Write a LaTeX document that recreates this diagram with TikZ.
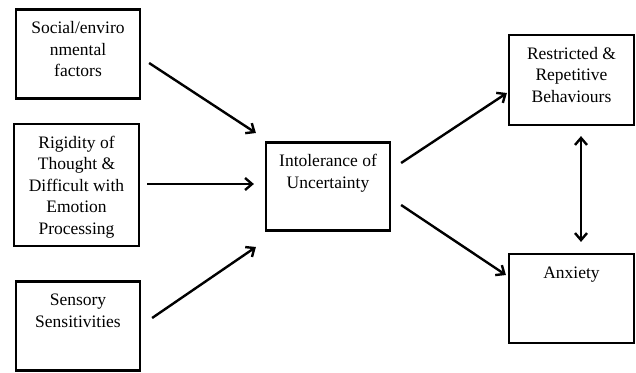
\documentclass[tikz,border=0pt]{standalone}
\usepackage{fontspec}
\setmainfont{Liberation Serif}
\usetikzlibrary{arrows.meta,calc}
\begin{document}
\begin{tikzpicture}[x=1pt,y=-1pt,
  box/.style={draw, line width=2.2pt, inner sep=0pt},
  txt/.style={anchor=north, inner sep=0pt, align=center,
    font=\fontsize{17.5}{21.5}\selectfont},
  tip/.tip={Straight Barb[length=7pt,width=12pt,line width=2.4pt]},
  arr/.style={line width=2.4pt, -tip},
  darr/.style={line width=2.4pt, tip-tip}]
\useasboundingbox (0,0) rectangle (636,372);
\node[box, minimum width=124pt, minimum height=89pt] (b1) at (78,54) {};
\node[box, minimum width=125pt, minimum height=122pt] (b2) at (76.5,185) {};
\node[box, minimum width=124pt, minimum height=89pt] (b3) at (78,326) {};
\node[box, minimum width=124pt, minimum height=88pt] (c) at (328,186.5) {};
\node[box, minimum width=125pt, minimum height=90pt] (r) at (571.5,80) {};
\node[box, minimum width=125pt, minimum height=89pt] (a) at (571.5,298.5) {};
\node[txt] (t1) at ([yshift=-10pt]b1.north) {\strut Social/enviro\\nmental\\factors};
\node[txt] (t2) at ([yshift=-10pt]b2.north) {\strut Rigidity of\\Thought \&\\Difficult with\\Emotion\\Processing};
\node[txt] (t3) at ([yshift=-10pt]b3.north) {\strut Sensory\\Sensitivities};
\node[txt] (tc) at ([yshift=-10pt]c.north) {\strut Intolerance of\\Uncertainty};
\node[txt] (tr) at ([yshift=-10pt]r.north) {\strut Restricted \&\\Repetitive\\Behaviours};
\node[txt] (ta) at ([yshift=-10pt]a.north) {\strut Anxiety};
\draw[arr] ([shift={(8,9)}]b1.east) -- ([shift={(-9,-53.5)}]c.west);
\draw[arr] ([shift={(7,-1)}]b2.east) -- ([shift={(-11,-2.5)}]c.west);
\draw[arr] ([shift={(11,-8)}]b3.east) -- ([shift={(-9,60.5)}]c.west);
\draw[arr] ([shift={(10,-23.5)}]c.east) -- ([shift={(-1,13)}]r.west);
\draw[arr] ([shift={(10,18.5)}]c.east) -- ([shift={(-2,-23.5)}]a.west);
\draw[darr] ([shift={(9.5,10)}]r.south) -- ([shift={(9.5,-11)}]a.north);
\end{tikzpicture}
\end{document}
